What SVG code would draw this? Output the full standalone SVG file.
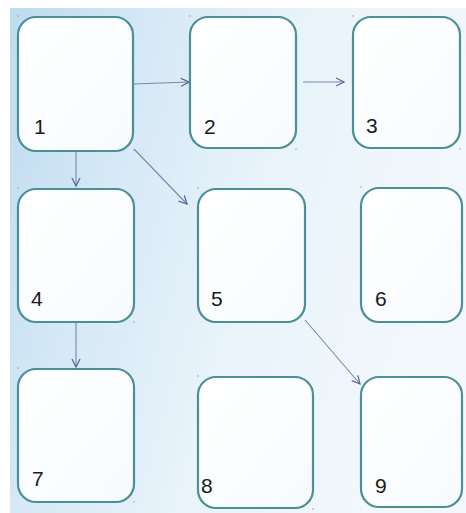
<svg xmlns="http://www.w3.org/2000/svg" width="466" height="513" viewBox="0 0 466 513">
<defs>
<linearGradient id="bg" x1="0" y1="0" x2="1" y2="0.3">
<stop offset="0" stop-color="#bddbf0"/>
<stop offset="0.3" stop-color="#d6e9f6"/>
<stop offset="0.6" stop-color="#e8f3fa"/>
<stop offset="1" stop-color="#f2f8fc"/>
</linearGradient>
<linearGradient id="boxfill" x1="0" y1="0" x2="1" y2="1">
<stop offset="0" stop-color="#ffffff"/>
<stop offset="1" stop-color="#f7fbfd"/>
</linearGradient>
<marker id="arr" viewBox="0 0 10 10" refX="9" refY="5" markerWidth="10" markerHeight="10" markerUnits="userSpaceOnUse" orient="auto">
<path d="M1,1 L9,5 L1,9" fill="none" stroke="#5a6a9a" stroke-width="1.3"/>
</marker>
<style>
.box{fill:url(#boxfill);stroke:#4b8f97;stroke-width:2.2}
.lbl{font-family:"Liberation Sans",Arial,sans-serif;font-size:21px;fill:#1a1a1a}
.con{fill:none;stroke:#7a88aa;stroke-width:1.1;marker-end:url(#arr)}
.dot{fill:#9aa4ad}
</style>
</defs>
<rect x="0" y="0" width="466" height="513" fill="#ffffff"/>
<rect x="10" y="8" width="456" height="505" fill="url(#bg)"/>
<g id="connectors">
<path class="con" d="M133,84 L189,82"/>
<path class="con" d="M303,82 L344,82"/>
<path class="con" d="M76,151 L76,186"/>
<path class="con" d="M134,149 L187,204"/>
<path class="con" d="M76,322 L76,367"/>
<path class="con" d="M305,320 L360,384"/>
</g>
<g id="node1"><rect class="box" x="18" y="17" width="115" height="134" rx="18"/><text class="lbl" x="34" y="134">1</text><circle class="dot" cx="18" cy="16" r="0.8"/><circle class="dot" cx="134" cy="150" r="0.8"/></g>
<g id="node2"><rect class="box" x="190" y="17" width="106" height="131" rx="18"/><text class="lbl" x="204" y="134">2</text><circle class="dot" cx="190" cy="16" r="0.8"/><circle class="dot" cx="296" cy="149" r="0.8"/></g>
<g id="node3"><rect class="box" x="353" y="17" width="107" height="131" rx="18"/><text class="lbl" x="366" y="133">3</text><circle class="dot" cx="353" cy="16" r="0.8"/><circle class="dot" cx="460" cy="149" r="0.8"/></g>
<g id="node4"><rect class="box" x="18" y="189" width="116" height="133" rx="18"/><text class="lbl" x="31" y="306">4</text><circle class="dot" cx="18" cy="188" r="0.8"/><circle class="dot" cx="134" cy="322" r="0.8"/></g>
<g id="node5"><rect class="box" x="198" y="189" width="107" height="133" rx="18"/><text class="lbl" x="211" y="306">5</text><circle class="dot" cx="198" cy="188" r="0.8"/></g>
<g id="node6"><rect class="box" x="361" y="188" width="101" height="134" rx="18"/><text class="lbl" x="375" y="306">6</text><circle class="dot" cx="361" cy="187" r="0.8"/></g>
<g id="node7"><rect class="box" x="18" y="369" width="116" height="133" rx="18"/><text class="lbl" x="32" y="486">7</text><circle class="dot" cx="18" cy="368" r="0.8"/><circle class="dot" cx="134" cy="502" r="0.8"/></g>
<g id="node8"><rect class="box" x="198" y="377" width="115" height="131" rx="18"/><text class="lbl" x="201" y="493">8</text><circle class="dot" cx="198" cy="376" r="0.8"/><circle class="dot" cx="313" cy="509" r="0.8"/></g>
<g id="node9"><rect class="box" x="361" y="377" width="101" height="130" rx="18"/><text class="lbl" x="375" y="493">9</text></g>
</svg>
